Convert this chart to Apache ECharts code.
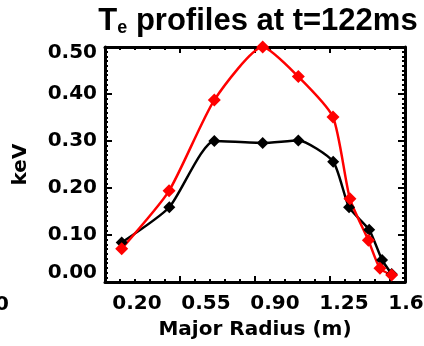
<!DOCTYPE html>
<html>
<head>
<meta charset="utf-8">
<script src="https://cdn.jsdelivr.net/npm/echarts@6/dist/echarts.min.js"></script>
<style>
  html, body { margin: 0; padding: 0; background: #fff; }
  #chart { width: 424px; height: 346px; }
</style>
</head>
<body>
<div id="chart"></div>
<script>
// data
var radiusBlack = [0.278, 0.500, 0.710, 0.936, 1.102, 1.265, 1.339, 1.433, 1.493, 1.538];
var teBlack     = [0.084, 0.159, 0.300, 0.296, 0.301, 0.256, 0.159, 0.111, 0.047, 0.017];
var radiusRed   = [0.278, 0.499, 0.710, 0.936, 1.102, 1.264, 1.343, 1.429, 1.483, 1.538];
var teRed       = [0.071, 0.194, 0.387, 0.500, 0.437, 0.351, 0.177, 0.089, 0.029, 0.015];
var xTicks = [0.20, 0.55, 0.90, 1.25, 1.60];
var yTicks = [0.0, 0.1, 0.2, 0.3, 0.4, 0.5];

(function() {
  var font = '"DejaVu Sans", sans-serif';
  var titleFont = '"Liberation Sans", Arial, sans-serif';
  var ink = '#000';

  function pairs(xs, ys) {
    return xs.map(function(x, i) { return [x, ys[i]]; });
  }

  var boxAxis = {
    min: xTicks[0], max: xTicks[xTicks.length - 1], interval: 0.35,
    axisLine: { show: true, onZero: false, lineStyle: { color: ink, width: 3 } },
    axisTick: { show: true, inside: true, length: 6, lineStyle: { color: ink, width: 2 } },
    minorTick: { show: true, splitNumber: 5, length: 3, lineStyle: { color: ink, width: 2 } },
    axisLabel: { show: false },
    splitLine: { show: false }
  };

  var chart = echarts.init(document.getElementById('chart'), null, { renderer: 'canvas' });
  chart.setOption({
    animation: false,
    backgroundColor: '#fff',
    title: {
      left: 253, top: 1, textAlign: 'center',
      text: '{t|T}{s|e}{t| profiles at t=122ms}',
      textStyle: {
        rich: {
          t: { fontFamily: titleFont, fontWeight: 'bold', fontSize: 31, color: ink },
          s: { fontFamily: titleFont, fontWeight: 'bold', fontSize: 18, color: ink, verticalAlign: 'bottom' }
        }
      }
    },
    grid: [
      { left: 105, right: 19, top: 47, bottom: 64, outerBoundsMode: 'none' },
      { left: 137, right: 11, top: 47, bottom: 64, outerBoundsMode: 'none' }
    ],
    xAxis: [
      Object.assign({}, boxAxis, {
        type: 'value', gridIndex: 0, position: 'bottom',
        name: 'Major Radius (m)', nameLocation: 'middle', nameGap: 38,
        nameTextStyle: { fontFamily: font, fontWeight: 'bold', fontSize: 20, color: ink }
      }),
      Object.assign({}, boxAxis, { type: 'value', gridIndex: 0, position: 'top' }),
      {
        type: 'value', gridIndex: 1, position: 'bottom',
        min: xTicks[0], max: xTicks[xTicks.length - 1], interval: 0.35,
        axisLine: { show: false }, axisTick: { show: false }, splitLine: { show: false },
        axisLabel: {
          margin: 12, color: ink, fontFamily: font, fontWeight: 'bold', fontSize: 20,
          showMinLabel: true, showMaxLabel: true,
          formatter: function(v) { return v.toFixed(2); }
        }
      }
    ],
    yAxis: [
      {
        type: 'value', gridIndex: 0, position: 'left',
        min: yTicks[0], max: yTicks[yTicks.length - 1], interval: 0.1,
        axisLine: { show: true, onZero: false, lineStyle: { color: ink, width: 3 } },
        axisTick: { show: true, inside: true, length: 7, lineStyle: { color: ink, width: 2 } },
        minorTick: { show: true, splitNumber: 10, length: 3, lineStyle: { color: ink, width: 2 } },
        splitLine: { show: false },
        name: 'keV', nameLocation: 'middle', nameGap: 74, nameRotate: 90,
        nameTextStyle: { fontFamily: font, fontWeight: 'bold', fontSize: 20, color: ink },
        axisLabel: {
          margin: 8, color: ink, fontFamily: font, fontWeight: 'bold', fontSize: 20,
          formatter: function(v) {
            var s = v.toFixed(2);
            if (v >= 0.5) return '{hi|' + s + '}';
            if (v <= 0) return '{lo|' + s + '}';
            return s;
          },
          rich: {
            hi: { fontFamily: font, fontWeight: 'bold', fontSize: 20, color: ink, padding: [12, 0, 0, 0] },
            lo: { fontFamily: font, fontWeight: 'bold', fontSize: 20, color: ink, padding: [0, 0, 18, 0] }
          }
        }
      },
      {
        type: 'value', gridIndex: 0, position: 'right',
        min: yTicks[0], max: yTicks[yTicks.length - 1], interval: 0.1,
        axisLine: { show: true, onZero: false, lineStyle: { color: ink, width: 3 } },
        axisTick: { show: true, inside: true, length: 7, lineStyle: { color: ink, width: 2 } },
        minorTick: { show: true, splitNumber: 10, length: 3, lineStyle: { color: ink, width: 2 } },
        splitLine: { show: false },
        axisLabel: { show: false }
      },
      { type: 'value', gridIndex: 1, show: false, min: 0, max: 0.5 }
    ],
    graphic: [
      {
        type: 'text', x: 9, y: 305,
        style: {
          text: '1.60', align: 'right', verticalAlign: 'middle',
          font: 'bold 20px "DejaVu Sans", sans-serif', fill: ink
        }
      }
    ],
    series: [
      {
        name: 'black', type: 'line', xAxisIndex: 0, yAxisIndex: 0,
        data: pairs(radiusBlack, teBlack), smooth: 0.2,
        symbol: 'diamond', symbolSize: 12,
        lineStyle: { color: ink, width: 2.5 },
        itemStyle: { color: ink }
      },
      {
        name: 'red', type: 'line', xAxisIndex: 0, yAxisIndex: 0,
        data: pairs(radiusRed, teRed), smooth: 0.2,
        symbol: 'diamond', symbolSize: 13,
        lineStyle: { color: '#ff0000', width: 2.5 },
        itemStyle: { color: '#ff0000' }
      }
    ]
  });
})();
</script>
</body>
</html>
